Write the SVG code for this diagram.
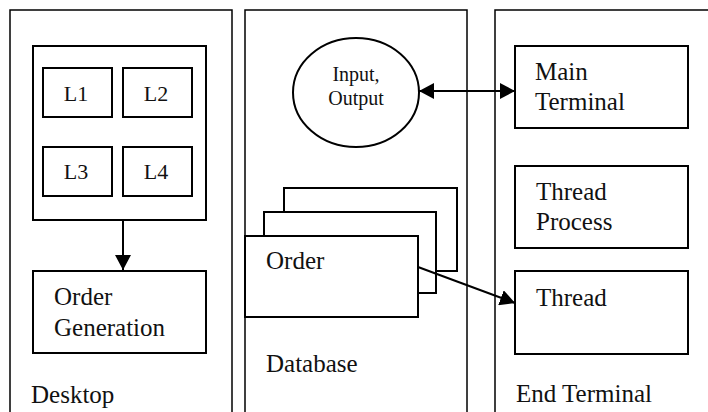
<svg xmlns="http://www.w3.org/2000/svg" width="708" height="412" viewBox="0 0 708 412">
<style>
.col{fill:none;stroke:#000;stroke-width:1.5}
.box{fill:#fff;stroke:#000;stroke-width:2}
text{font-family:'Liberation Serif','Times New Roman','DejaVu Serif',serif;fill:#111}
.t{font-size:25px}
.s{font-size:22px}
.io{font-size:20px}
.c{fill:none;stroke:#000;stroke-width:2}
</style>
<defs>
<marker id="ah" viewBox="0 0 15 16" refX="15" refY="8" markerWidth="15" markerHeight="16" markerUnits="userSpaceOnUse" orient="auto-start-reverse">
<path d="M0,0 L15,8 L0,16 Z" fill="#000"/>
</marker>
</defs>
<rect width="708" height="412" fill="#fff"/>
<g id="desktop">
<rect class="col" x="10" y="10" width="222" height="420"/>
<text class="t" x="31" y="403" font-family="Liberation Serif, serif">Desktop</text>
</g>
<g id="database">
<rect class="col" x="245" y="10" width="222" height="420"/>
<text class="t" x="266" y="372" font-family="Liberation Serif, serif">Database</text>
</g>
<g id="end-terminal">
<rect class="col" x="495" y="10" width="240" height="420"/>
<text class="t" x="516" y="402" font-family="Liberation Serif, serif">End Terminal</text>
</g>
<g id="l-group">
<rect class="box" x="33" y="46" width="173" height="174"/>
</g>
<g id="l1"><rect class="box" x="43" y="68" width="69" height="49"/><text class="s" x="76" y="101" text-anchor="middle" font-family="Liberation Serif, serif">L1</text></g>
<g id="l2"><rect class="box" x="123" y="68" width="69" height="49"/><text class="s" x="156" y="101" text-anchor="middle" font-family="Liberation Serif, serif">L2</text></g>
<g id="l3"><rect class="box" x="43" y="147" width="69" height="49"/><text class="s" x="76" y="179" text-anchor="middle" font-family="Liberation Serif, serif">L3</text></g>
<g id="l4"><rect class="box" x="123" y="147" width="69" height="49"/><text class="s" x="156" y="179" text-anchor="middle" font-family="Liberation Serif, serif">L4</text></g>
<g id="order-generation">
<rect class="box" x="33" y="271" width="173" height="82"/>
<text class="t" x="54" y="305" font-family="Liberation Serif, serif">Order</text>
<text class="t" x="54" y="336" font-family="Liberation Serif, serif">Generation</text>
</g>
<g id="input-output">
<ellipse class="box" cx="356" cy="92.5" rx="63" ry="54.5"/>
<text class="io" x="356" y="81" text-anchor="middle" font-family="Liberation Serif, serif">Input,</text>
<text class="io" x="356" y="105" text-anchor="middle" font-family="Liberation Serif, serif">Output</text>
</g>
<g id="order">
<rect class="box" x="284" y="188" width="173" height="83"/>
<rect class="box" x="264" y="212" width="172" height="81"/>
<rect class="box" x="245" y="236" width="173" height="81"/>
<text class="t" x="266" y="269" font-family="Liberation Serif, serif">Order</text>
</g>
<g id="main-terminal">
<rect class="box" x="515" y="46" width="173" height="82"/>
<text class="t" x="535" y="80" font-family="Liberation Serif, serif">Main</text>
<text class="t" x="535" y="110" font-family="Liberation Serif, serif">Terminal</text>
</g>
<g id="thread-process">
<rect class="box" x="515" y="166" width="173" height="82"/>
<text class="t" x="536" y="200" font-family="Liberation Serif, serif">Thread</text>
<text class="t" x="536" y="230" font-family="Liberation Serif, serif">Process</text>
</g>
<g id="thread">
<rect class="box" x="515" y="271" width="173" height="83"/>
<text class="t" x="536" y="306" font-family="Liberation Serif, serif">Thread</text>
</g>
<g id="connectors">
<line class="c" x1="123" y1="220" x2="123" y2="270" marker-end="url(#ah)"/>
<line class="c" x1="419" y1="91" x2="515" y2="91" marker-start="url(#ah)" marker-end="url(#ah)"/>
<line class="c" x1="418" y1="267" x2="515" y2="303" marker-end="url(#ah)"/>
</g>
</svg>
